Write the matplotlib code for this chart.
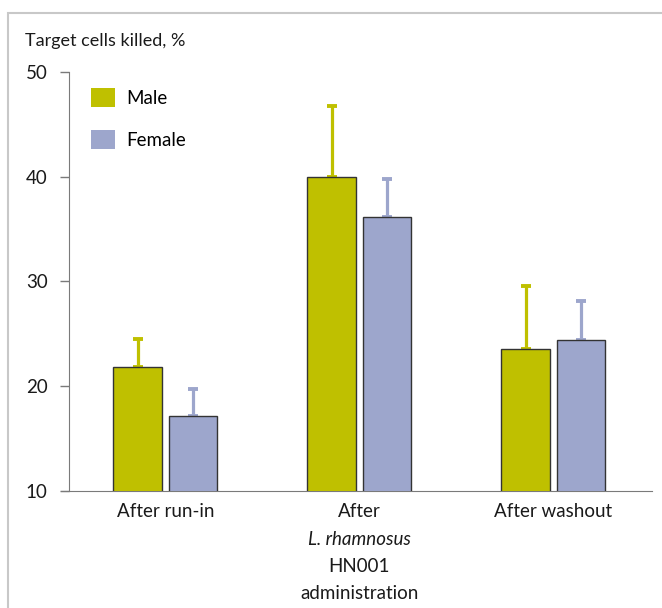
import numpy as np
import matplotlib
matplotlib.use("Agg")
import matplotlib.pyplot as plt
from matplotlib.patches import Rectangle

categories = ["After run-in", "After\nL. rhamnosus\nHN001\nadministration", "After washout"]
male = [21.8, 40.0, 23.6]
female = [17.2, 36.2, 24.4]
male_err = [2.7, 6.8, 6.0]
female_err = [2.5, 3.6, 3.7]
yticks = [10, 20, 30, 40, 50]

male_col = "#bfc000"
female_col = "#9da6cc"
grey = "#7a7a7a"
txt = "#1a1a1a"

plt.rcParams["font.family"] = ["Lato", "DejaVu Sans"]

fig = plt.figure(figsize=(6.62, 6.08), dpi=100)
ax = fig.add_axes([69 / 662, 117 / 608, 583 / 662, 419 / 608])

# light frame around the panel
fig.patches.append(Rectangle((8 / 662, -0.1), 1.2, 0.1 + 595 / 608, transform=fig.transFigure,
                             fill=False, edgecolor="#c8c8c8", linewidth=1.5))

x = np.arange(len(categories))
w = 0.25
off = 0.143
xmin, xmax = -0.497, 2.508
ax.bar(x - off, male, w, color=male_col, edgecolor="#333333", linewidth=1, label="Male", zorder=3)
ax.bar(x + off, female, w, color=female_col, edgecolor="#333333", linewidth=1, label="Female", zorder=3)
ax.errorbar(x - off, male, yerr=[np.zeros(3), male_err], fmt="none", ecolor=male_col,
            elinewidth=2.3, capsize=3.6, capthick=2.8, zorder=2)
ax.errorbar(x + off, female, yerr=[np.zeros(3), female_err], fmt="none", ecolor=female_col,
            elinewidth=2.3, capsize=3.6, capthick=2.8, zorder=2)

ax.set_ylim(10, 50)
ax.set_xlim(xmin, xmax)
ax.set_yticks(yticks)
ax.set_yticklabels([str(t) for t in yticks], fontsize=13.5, color=txt)
ax.tick_params(axis="y", length=6.5, width=1, color=grey, pad=9)
ax.set_xticks([])
for s in ["top", "right"]:
    ax.spines[s].set_visible(False)
ax.spines["left"].set_color(grey)
ax.spines["bottom"].set_color(grey)
ax.spines["bottom"].set_bounds(xmin - 8 / 194, xmax)

# category labels, line by line
for i, cat in enumerate(categories):
    for j, line in enumerate(cat.split("\n")):
        style = "italic" if "rhamnosus" in line else "normal"
        ax.annotate(line, xy=(i, 0), xycoords=("data", "axes fraction"),
                    xytext=(0, -15 - 19.6 * j), textcoords="offset points",
                    ha="center", va="center", fontsize=13.5, style=style, color=txt,
                    annotation_clip=False)

fig.text(25 / 662, 1 - 41 / 608, "Target cells killed, %", fontsize=13, va="center", color=txt)

leg = ax.legend(loc="upper left", bbox_to_anchor=(0.025, 0.98), frameon=False, fontsize=13.5,
                handlelength=1.3, handleheight=1.2, handletextpad=0.6, labelspacing=1.2, borderaxespad=0)
for h in leg.legend_handles:
    h.set_edgecolor("none")

fig.savefig("out.png", dpi=100)
